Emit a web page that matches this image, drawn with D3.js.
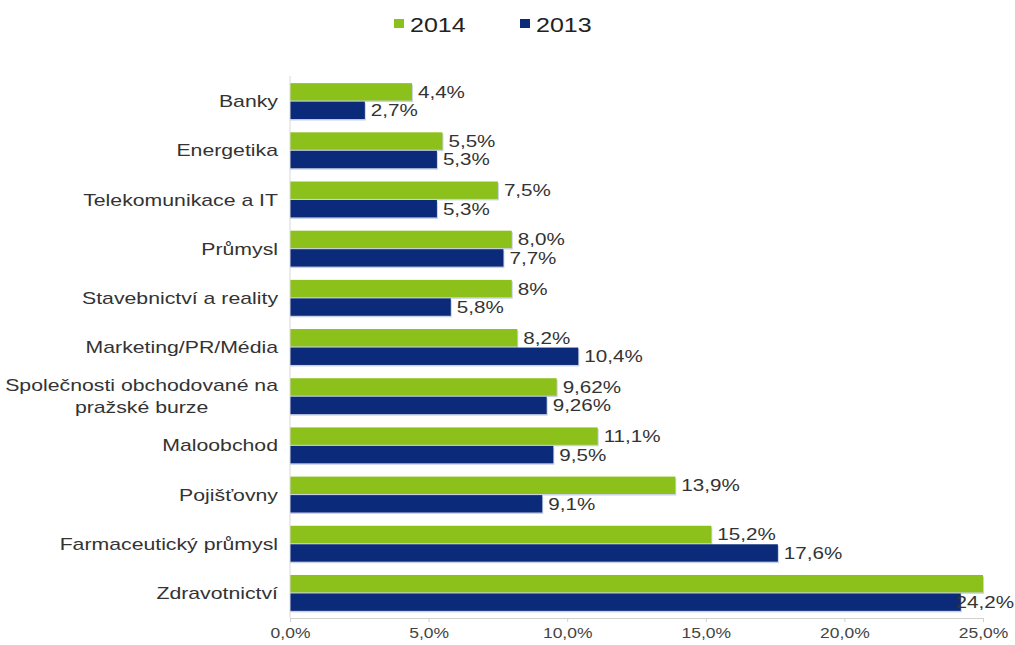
<!DOCTYPE html>
<html>
<head>
<meta charset="utf-8">
<script src="https://cdn.jsdelivr.net/npm/d3@7"></script>
<style>
  html, body { margin: 0; padding: 0; background: #fff; }
  svg { display: block; font-family: "Liberation Sans", Arial, sans-serif; }
</style>
</head>
<body>
<svg id="chart" width="1015" height="645"></svg>
<script>
// Industry categories, top to bottom
const categories = [
  "Banky",
  "Energetika",
  "Telekomunikace a IT",
  "Průmysl",
  "Stavebnictví a reality",
  "Marketing/PR/Média",
  "Společnosti obchodované na|pražské burze",
  "Maloobchod",
  "Pojišťovny",
  "Farmaceutický průmysl",
  "Zdravotnictví"
];

// Values in percent
const values2014 = [4.4, 5.5, 7.5, 8.0, 8.0, 8.2, 9.62, 11.1, 13.9, 15.2, 25.0];
const values2013 = [2.7, 5.3, 5.3, 7.7, 5.8, 10.4, 9.26, 9.5, 9.1, 17.6, 24.2];

// Labels as printed next to the bars
const labels2014 = ["4,4%", "5,5%", "7,5%", "8,0%", "8%", "8,2%", "9,62%", "11,1%", "13,9%", "15,2%", null];
const labels2013 = ["2,7%", "5,3%", "5,3%", "7,7%", "5,8%", "10,4%", "9,26%", "9,5%", "9,1%", "17,6%", "24,2%"];

const seriesNames = ["2014", "2013"];
const seriesColors = ["#8cc11c", "#0c2a7a"];
const xTicks = [0, 5, 10, 15, 20, 25];

// wide lettering used throughout the chart
const STRETCH = 1.25;
const textColor = "#333";
const W = 1015;

const svg = d3.select("#chart");

const x = d3.scaleLinear().domain([0, 25]).range([290, 983]);
const y = d3.scaleBand().domain(categories).range([76.5, 617.5]).paddingInner(0.27).paddingOuter(0.135);
const ySub = d3.scaleBand().domain(seriesNames).range([0, y.bandwidth()]).paddingInner(0.06);
const colorOf = d3.scaleOrdinal().domain(seriesNames).range(seriesColors);

const rows = categories.map((c, i) => ({
  cat: c,
  series: [
    { name: "2014", v: values2014[i], label: labels2014[i] },
    { name: "2013", v: values2013[i], label: labels2013[i] }
  ]
}));

// places a horizontally stretched text at (px, py)
function wideText(parent, px, py, str, size, anchor) {
  return parent.append("text")
    .attr("transform", `translate(${px},${py}) scale(${STRETCH},1)`)
    .attr("text-anchor", anchor || "start")
    .attr("dy", "0.36em")
    .attr("font-size", size)
    .attr("fill", textColor)
    .text(str);
}

// Bars
const group = svg.append("g").selectAll("g.row").data(rows).join("g")
  .attr("class", "row")
  .attr("transform", d => `translate(0,${y(d.cat)})`);

// soft shadow under each bar
group.selectAll("rect.shadow").data(d => d.series).join("rect")
  .attr("class", "shadow")
  .attr("x", x(0))
  .attr("y", d => ySub(d.name) + 1.5)
  .attr("width", d => x(Math.min(d.v, 25)) - x(0) + 1)
  .attr("height", ySub.bandwidth())
  .attr("fill", "#c9d2e3");

group.selectAll("rect.bar").data(d => d.series).join("rect")
  .attr("class", "bar")
  .attr("x", x(0))
  .attr("y", d => ySub(d.name))
  .attr("width", d => x(Math.min(d.v, 25)) - x(0))
  .attr("height", ySub.bandwidth())
  .attr("fill", d => colorOf(d.name));

// Value labels, pulled back inside the chart when they would run off the edge
group.each(function (r) {
  const gg = d3.select(this);
  r.series.filter(s => s.label).forEach(s => {
    const cy = ySub(s.name) + ySub.bandwidth() / 2;
    const t = wideText(gg, x(s.v) + 6, cy, s.label, 16.5);
    const w = t.node().getComputedTextLength() * STRETCH;
    const px = Math.min(x(s.v) + 6, W - 1 - w);
    t.attr("transform", `translate(${px},${cy}) scale(${STRETCH},1)`);
  });
});

// Category labels
const catLabels = svg.append("g");
rows.forEach(r => {
  const lines = r.cat.split("|");
  const cy = y(r.cat) + y.bandwidth() / 2;
  if (lines.length === 1) {
    wideText(catLabels, 278, cy, lines[0], 17, "end");
  } else {
    const first = wideText(catLabels, 278, cy - 11, lines[0], 17, "end");
    const w = first.node().getComputedTextLength() * STRETCH;
    wideText(catLabels, 278 - w / 2, cy + 11, lines[1], 17, "middle");
  }
});

// Vertical axis line
svg.append("line")
  .attr("x1", x(0)).attr("x2", x(0))
  .attr("y1", 76).attr("y2", 618)
  .attr("stroke", "#d8d8d8");

// Value axis
const xAxis = d3.axisBottom(x)
  .tickValues(xTicks)
  .tickSize(4)
  .tickFormat(d => d3.format(".1f")(d).replace(".", ",") + "%");

const ax = svg.append("g")
  .attr("transform", "translate(0,618)")
  .call(xAxis);
ax.select(".domain").attr("stroke", "#d0d0d0");
ax.selectAll(".tick line").attr("stroke", "#d0d0d0");
ax.selectAll(".tick text")
  .attr("font-size", 14)
  .attr("fill", "#444")
  .attr("dy", "0.95em")
  .attr("transform", `scale(${STRETCH},1)`)
  .attr("font-family", "Liberation Sans, Arial, sans-serif");

// Legend
const legend = svg.append("g");
const legendItems = [
  { name: "2014", x: 394 },
  { name: "2013", x: 520 }
];
legendItems.forEach(it => {
  legend.append("rect")
    .attr("x", it.x).attr("y", 19)
    .attr("width", 10).attr("height", 9)
    .attr("fill", colorOf(it.name));
  wideText(legend, it.x + 16, 24.5, it.name, 20).attr("fill", "#222");
});
</script>
</body>
</html>
